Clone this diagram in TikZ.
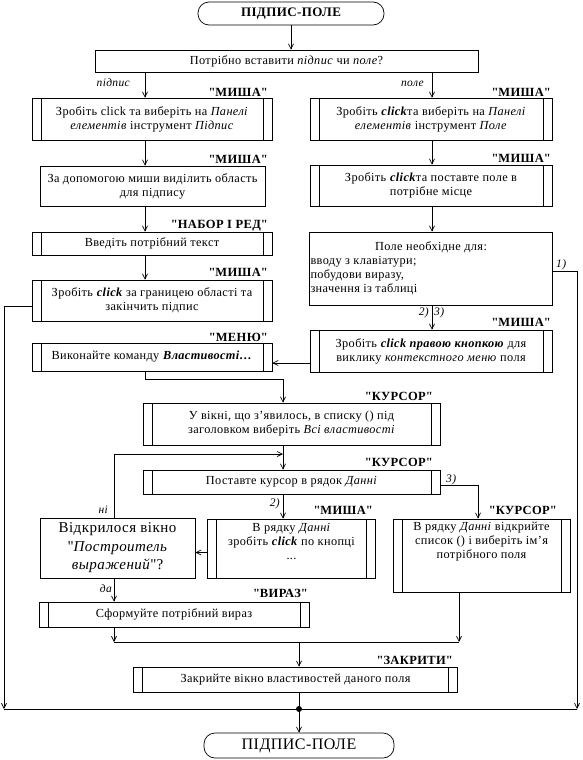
\documentclass[tikz,border=0pt]{standalone}
\usepackage{fontspec}
\setmainfont{Liberation Serif}[LetterSpace=3]
\usetikzlibrary{arrows.meta}
\newcommand{\qq}{\textquotedbl}
\begin{document}
\begin{tikzpicture}[x=1pt,y=-1pt,
 every node/.style={font=\fontsize{12.3}{14}\selectfont, inner sep=0pt},
 box/.style={draw, rectangle, align=center, line width=0.7pt},
 pp/.style={box, path picture={\draw[line width=0.7pt]
   ([xshift=9pt]path picture bounding box.north west) -- ([xshift=9pt]path picture bounding box.south west)
   ([xshift=-9pt]path picture bounding box.north east) -- ([xshift=-9pt]path picture bounding box.south east);}},
 term/.style={draw, rectangle, rounded corners=11pt, line width=0.7pt},
 tag/.style={font=\fontsize{12.5}{15}\selectfont\bfseries, anchor=base east},
 lbl/.style={font=\fontsize{11.5}{13}\selectfont\itshape},
 arr/.style={-{Straight Barb[length=5pt,width=5pt]}, line width=0.7pt},
 ln/.style={line width=0.7pt}
]
\useasboundingbox (0,0) rectangle (583,760);

% helper coordinates (x positions of vertical connectors)
\coordinate (ax) at (145,0);
\coordinate (bx) at (432,0);
\coordinate (cx) at (283,0);
\coordinate (dx) at (114,0);
\coordinate (kx) at (478,0);
\coordinate (kbx) at (459,0);
\coordinate (lft) at (4,0);
\coordinate (rgt) at (577,0);
\coordinate (jn) at (283,454);
\coordinate (mrg) at (299,642);
\coordinate (dot) at (299,709);

% top
\node[term, minimum width=186pt, minimum height=23pt, font=\fontsize{13}{15}\selectfont\bfseries] (T1) at (291,13.5) {ПІДПИС-ПОЛЕ};
\node[box, minimum width=383pt, minimum height=22pt] (Q) at (286.5,61) {Потрібно вставити \textit{підпис} чи \textit{поле}?};

% left column
\node[pp, minimum width=240pt, minimum height=42pt] (L1) at (152,119) {Зробіть click та виберіть на \textit{Панелі}\\ \textit{елементів} інструмент \textit{Підпис}};
\node[box, minimum width=225pt, minimum height=40pt] (L2) at (152.5,186) {За допомогою миши виділить область\\ для підпису};
\node[pp, minimum width=240pt, minimum height=23pt] (L3) at (152,243.5) {Введіть потрібний текст};
\node[pp, minimum width=240pt, minimum height=41pt] (L4) at (152,300.5) {Зробіть \textbf{\textit{click}} за границею області та\\ закінчить підпис};
\node[pp, minimum width=240pt, minimum height=28pt] (L5) at (152,357) {Виконайте команду \textbf{\textit{Властивості…}}};

% right column
\node[pp, minimum width=242pt, minimum height=42pt] (R1) at (431,119) {Зробіть \textbf{\textit{click}}та виберіть на \textit{Панелі}\\ \textit{елементів} інструмент \textit{Поле}};
\node[pp, minimum width=242pt, minimum height=41pt] (R2) at (431,185.5) {Зробіть \textbf{\textit{click}}та поставте поле в\\ потрібне місце};
\node[box, minimum width=243pt, minimum height=73pt] (R3) at (431,268.5) {\parbox{241pt}{\centering Поле необхідне для:\par\raggedright вводу з клавіатури;\\ побудови виразу,\\ значення із таблиці}};
\node[pp, minimum width=242pt, minimum height=42pt] (R4) at (431,351) {Зробіть \textbf{\textit{click правою кнопкою}} для\\ виклику \textit{контекстного меню} поля};

% middle
\node[pp, minimum width=297pt, minimum height=42pt] (C1) at (291.5,424) {У вікні, що з’явилось, в списку () під\\ заголовком виберіть \textit{Всі властивості}};
\node[pp, minimum width=297pt, minimum height=24pt] (C2) at (291.5,482) {Поставте курсор в рядок \textit{Данні}};
\node[pp, minimum width=168pt, minimum height=59pt] (M) at (291.5,548.5) {\parbox[c][57pt][t]{150pt}{\centering\vspace*{3pt}В рядку \textit{Данні}\\ зробіть \textbf{\textit{click}} по кнопці\\ ...}};
\node[pp, minimum width=177pt, minimum height=73pt] (K) at (481.5,555.5) {\parbox[c][71pt][t]{160pt}{\centering\vspace*{2pt}В рядку \textit{Данні} відкрийте\\ список () і виберіть ім’я\\ потрібного поля}};
\node[box, minimum width=155pt, minimum height=60pt, font=\fontsize{15}{18.5}\selectfont] (D) at (117.5,548) {Відкрилося вікно\\ \qq\textit{Построитель}\\ \textit{выражений}\qq?};
\node[pp, minimum width=270pt, minimum height=25pt] (V) at (174,614.5) {Сформуйте потрібний вираз};
\node[pp, minimum width=324pt, minimum height=25pt] (Z) at (295.5,679.5) {Закрийте вікно властивостей даного поля};
\node[term, minimum width=190pt, minimum height=25pt, font=\fontsize{16}{18}\selectfont] (T2) at (299,745.5) {ПІДПИС-ПОЛЕ};

% tags
\node[tag] (g1) at (268,96) {\qq МИША\qq};
\node[tag] (g2) at (551,96) {\qq МИША\qq};
\node[tag] (g3) at (268,163) {\qq МИША\qq};
\node[tag] (g4) at (551,162) {\qq МИША\qq};
\node[tag] (g5) at (268,228) {\qq НАБОР І РЕД\qq};
\node[tag] (g6) at (268,276) {\qq МИША\qq};
\node[tag] (g7) at (551,326) {\qq МИША\qq};
\node[tag] (g8) at (268,341) {\qq МЕНЮ\qq};
\node[tag] (g9) at (433,400) {\qq КУРСОР\qq};
\node[tag] (g10) at (433,466) {\qq КУРСОР\qq};
\node[tag] (g11) at (373,514) {\qq МИША\qq};
\node[tag] (g12) at (557,514) {\qq КУРСОР\qq};
\node[tag] (g13) at (308,597) {\qq ВИРАЗ\qq};
\node[tag] (g14) at (453,664) {\qq ЗАКРИТИ\qq};

% branch labels
\node[lbl, anchor=base east] (lp) at (130,86) {підпис};
\node[lbl, anchor=base east] (lq) at (424,86) {поле};
\node[lbl, anchor=base west] (n1) at (556,267) {1)};
\node[lbl, anchor=base east] (n2) at (429,315) {2)};
\node[lbl, anchor=base west] (n3) at (434,315) {3)};
\node[lbl, anchor=base west] (n3b) at (446,482) {3)};
\node[lbl, anchor=base east] (n2b) at (280,506) {2)};
\node[lbl, anchor=base east] (ni) at (108,513) {ні};
\node[lbl, anchor=base east] (da) at (112,592) {да};

% connectors
\draw[arr] (T1.south) -- (Q.north -| T1.south);
\draw[arr] (Q.south -| ax) -- (L1.north -| ax);
\draw[arr] (Q.south -| bx) -- (R1.north -| bx);
\draw[arr] (L1.south -| ax) -- (L2.north -| ax);
\draw[arr] (L2.south -| ax) -- (L3.north -| ax);
\draw[arr] (L3.south -| ax) -- (L4.north -| ax);
\draw[arr] (R1.south -| bx) -- (R2.north -| bx);
\draw[arr] (R2.south -| bx) -- (R3.north -| bx);
\draw[arr] (R3.south -| bx) -- (R4.north -| bx);
\draw[arr] ([yshift=-6pt]L4.west) -| (lft |- dot);
\draw[arr] ([yshift=-3pt]R3.east) -| (rgt |- dot);
\draw[arr] ([yshift=-12pt]R4.west) -- ([yshift=-12pt]R4.west -| L5.east);
\draw[arr] (L5.south -| ax) -- ++(0,8) -| (C1.north -| cx);
\draw[arr] (C1.south -| cx) -- (C2.north -| cx);
\draw[arr] (D.north -| dx) |- (jn);
\draw[arr] (C2.south -| cx) -- (M.north -| cx);
\draw[arr] ([yshift=-3pt]C2.east) -| (K.north -| kx);
\draw[arr] ([yshift=-4pt]M.west) -- ([yshift=-4pt]M.west -| D.east);
\draw[arr] (D.south -| dx) -- (V.north -| dx);
\draw[arr] (V.south -| dx) -- (dx |- mrg);
\draw[arr] (K.south -| kbx) -- (kbx |- mrg);
\draw[ln] (dx |- mrg) -- (kbx |- mrg);
\draw[arr] (mrg) -- (Z.north -| mrg);
\draw[ln] (Z.south -| mrg) -- (dot);
\draw[ln] (lft |- dot) -- (rgt |- dot);
\fill (dot) circle (3pt);
\draw[arr] (dot) -- (T2.north -| dot);
\end{tikzpicture}
\end{document}
